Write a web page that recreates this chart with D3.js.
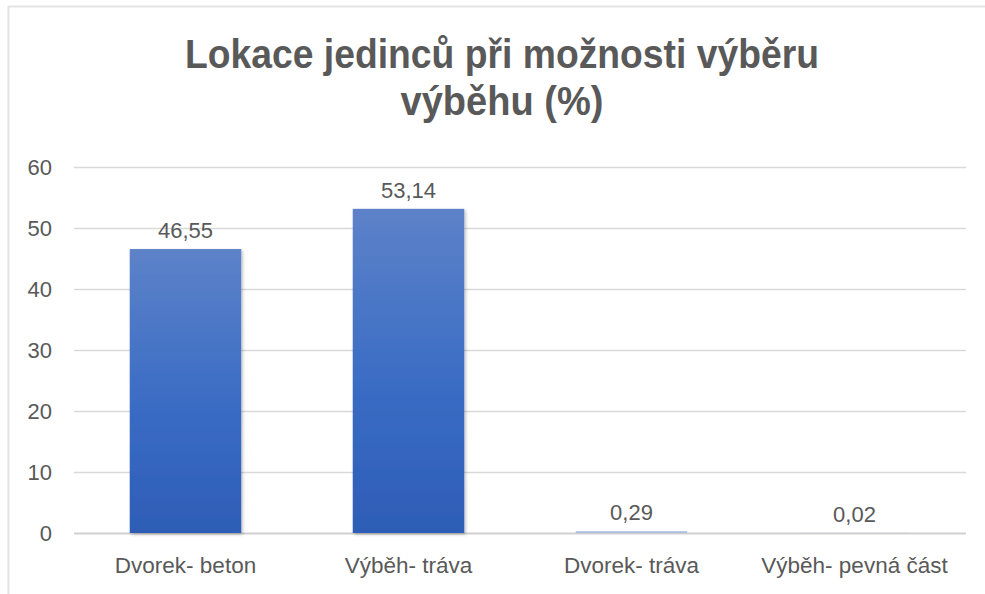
<!DOCTYPE html>
<html>
<head>
<meta charset="utf-8">
<script src="https://cdn.jsdelivr.net/npm/d3@7"></script>
<style>
  html, body { margin: 0; padding: 0; background: #fff; }
  svg { display: block; }
  text { font-family: "Liberation Sans", Arial, sans-serif; fill: #595959; }
</style>
</head>
<body>
<svg id="chart" width="985" height="594"></svg>
<script>
const titleLines = ["Lokace jedinců při možnosti výběru", "výběhu (%)"];
const categories = ["Dvorek- beton", "Výběh- tráva", "Dvorek- tráva", "Výběh- pevná část"];
const values = [46.55, 53.14, 0.29, 0.02];
const valueLabels = ["46,55", "53,14", "0,29", "0,02"];
const yTicks = [0, 10, 20, 30, 40, 50, 60];

const svg = d3.select("#chart");
const W = 985, H = 594;
const plot = { left: 74, right: 966, top: 167, bottom: 533 };

// chart border (top and left edges visible)
svg.append("line").attr("x1", 8.5).attr("x2", W).attr("y1", 6.5).attr("y2", 6.5)
  .attr("stroke", "#e3e3e3").attr("stroke-width", 2);
svg.append("line").attr("x1", 8.5).attr("x2", 8.5).attr("y1", 6).attr("y2", H)
  .attr("stroke", "#e3e3e3").attr("stroke-width", 2);

const defs = svg.append("defs");
const grad = defs.append("linearGradient").attr("id", "barGrad")
  .attr("x1", 0).attr("y1", 0).attr("x2", 0).attr("y2", 1);
grad.append("stop").attr("offset", "0%").attr("stop-color", "#5d82c9");
grad.append("stop").attr("offset", "55%").attr("stop-color", "#3a6cc4");
grad.append("stop").attr("offset", "100%").attr("stop-color", "#2e5db6");
const sh = defs.append("filter").attr("id", "shadow")
  .attr("x", "-10%").attr("y", "-10%").attr("width", "130%").attr("height", "130%");
sh.append("feDropShadow").attr("dx", 1.5).attr("dy", 1.5).attr("stdDeviation", 1.5)
  .attr("flood-color", "#000").attr("flood-opacity", 0.25);

const x = d3.scaleBand().domain(categories).range([plot.left, plot.right])
  .paddingInner(0.5).paddingOuter(0.25);
const y = d3.scaleLinear().domain([0, 60]).range([plot.bottom, plot.top]);

// gridlines
const grid = svg.append("g").attr("class", "grid")
  .attr("transform", `translate(${plot.left},0)`)
  .call(d3.axisLeft(y).tickValues(yTicks).tickSize(-(plot.right - plot.left)).tickFormat(""));
grid.select(".domain").remove();
grid.selectAll(".tick line").attr("stroke", "#d9d9d9").attr("stroke-width", 1.3);
grid.selectAll(".tick").filter(d => d === 0).select("line").attr("stroke", "#d0d0d0").attr("stroke-width", 2);

// y axis labels
const yAxis = svg.append("g").attr("transform", `translate(52,0)`)
  .call(d3.axisLeft(y).tickValues(yTicks).tickSize(0).tickPadding(0).tickFormat(d3.format("d")));
yAxis.select(".domain").remove();
yAxis.selectAll("text").attr("font-size", 22).attr("fill", "#595959")
  .attr("font-family", "Liberation Sans, Arial, sans-serif").attr("dy", "0.36em");

// bars
svg.append("g").selectAll("rect").data(values).join("rect")
  .attr("x", (d, i) => x(categories[i]))
  .attr("width", x.bandwidth())
  .attr("y", d => y(d))
  .attr("height", d => y(0) - y(d))
  .attr("fill", d => d < 1 ? "#a9bde3" : "url(#barGrad)")
  .attr("filter", d => d < 1 ? null : "url(#shadow)");

// value labels
svg.append("g").selectAll("text").data(values).join("text")
  .attr("x", (d, i) => x(categories[i]) + x.bandwidth() / 2)
  .attr("y", d => y(d) - 11)
  .attr("text-anchor", "middle")
  .attr("font-size", 22)
  .attr("fill", "#404040")
  .text((d, i) => valueLabels[i]);

// category labels
const xAxis = svg.append("g").attr("transform", `translate(0,${plot.bottom})`)
  .call(d3.axisBottom(x).tickSize(0).tickPadding(0));
xAxis.select(".domain").remove();
xAxis.selectAll("text").attr("font-size", 22.5).attr("fill", "#595959")
  .attr("font-family", "Liberation Sans, Arial, sans-serif")
  .attr("dy", 0).attr("y", 40);

// title
const titleWidths = [634, 203];
const titleBase = [68, 115];
svg.append("g").selectAll("text").data(titleLines).join("text")
  .attr("x", 502)
  .attr("y", (d, i) => titleBase[i])
  .attr("text-anchor", "middle")
  .attr("font-size", 41)
  .attr("font-weight", "bold")
  .attr("fill", "#595959")
  .attr("textLength", (d, i) => titleWidths[i])
  .attr("lengthAdjust", "spacingAndGlyphs")
  .text(d => d);
</script>
</body>
</html>
